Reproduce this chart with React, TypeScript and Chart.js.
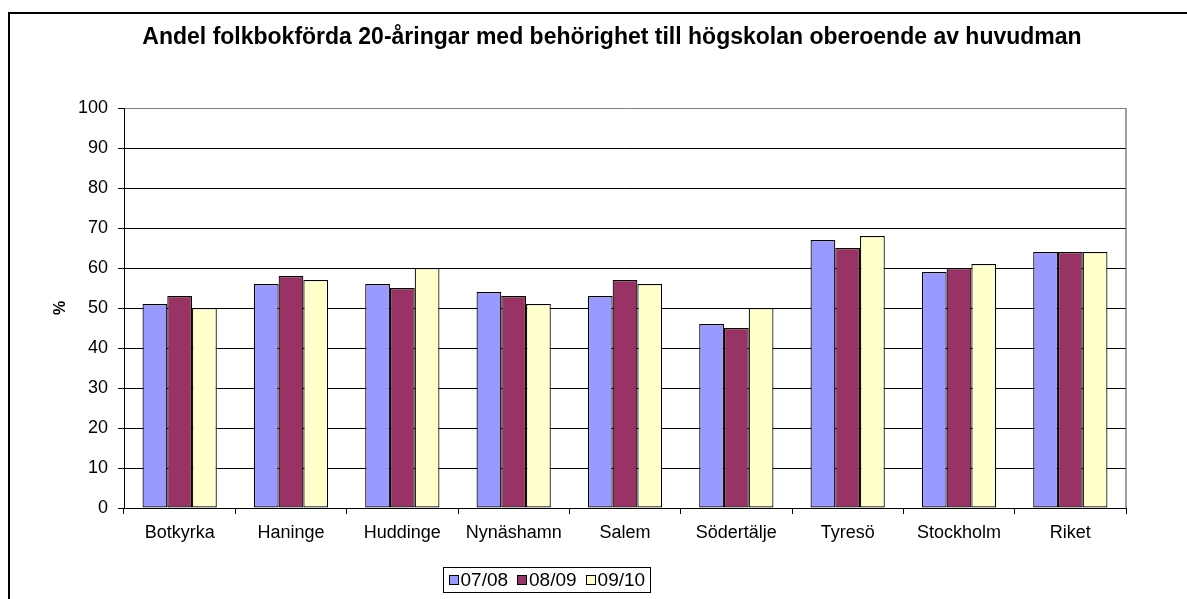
import React, { useEffect, useRef } from "react";
import { Chart, registerables } from "chart.js";

Chart.register(...registerables);

const titleText = "Andel folkbokförda 20-åringar med behörighet till högskolan oberoende av huvudman";
const yAxisTitle = "%";
const categories = ["Botkyrka", "Haninge", "Huddinge", "Nynäshamn", "Salem", "Södertälje", "Tyresö", "Stockholm", "Riket"];
const seriesLabels = ["07/08", "08/09", "09/10"];
const values0708 = [51, 56, 56, 54, 53, 46, 67, 59, 64];
const values0809 = [53, 58, 55, 53, 57, 45, 65, 60, 64];
const values0910 = [50, 57, 60, 51, 56, 50, 68, 61, 64];
const seriesColors = ["#9999FF", "#993366", "#FFFFCC"];
const yMin = 0;
const yMax = 100;
const yStep = 10;

const FONT = '"Liberation Sans", Arial, sans-serif';

const centeredTitle = {
  id: "centeredTitle",
  afterDraw(chart: any) {
    const ctx = chart.ctx;
    ctx.save();
    ctx.font = `bold 23px ${FONT}`;
    ctx.fillStyle = "#000";
    ctx.textAlign = "center";
    ctx.textBaseline = "middle";
    ctx.fillText(titleText, chart.width / 2, 24);
    ctx.restore();
  },
};

const boxLegend = {
  id: "boxLegend",
  afterDraw(chart: any) {
    const ctx = chart.ctx;
    ctx.save();
    ctx.font = `19px ${FONT}`;
    const sq = 9, gapSq = 3, gapItem = 9, padX = 5;
    const items = chart.data.datasets.map((ds: any) => ({
      label: ds.label,
      color: ds.backgroundColor,
      w: ctx.measureText(ds.label).width,
    }));
    const total =
      padX * 2 +
      items.reduce((s: number, it: any) => s + sq + gapSq + it.w, 0) +
      gapItem * (items.length - 1);
    const cx = 536.5, cy = 565.5, h = 25;
    const x0 = Math.round(cx - total / 2) + 0.5;
    const y0 = Math.round(cy - h / 2) + 0.5;
    ctx.strokeStyle = "#000";
    ctx.lineWidth = 1;
    ctx.strokeRect(x0, y0, Math.round(total), h);
    let x = x0 + padX;
    ctx.textBaseline = "middle";
    ctx.textAlign = "left";
    items.forEach((it: any) => {
      const sy = Math.round(cy - sq / 2) + 0.5;
      ctx.fillStyle = it.color;
      ctx.fillRect(Math.round(x) + 0.5, sy, sq, sq);
      ctx.strokeRect(Math.round(x) + 0.5, sy, sq, sq);
      x += sq + gapSq;
      ctx.fillStyle = "#000";
      ctx.fillText(it.label, x, cy + 1);
      x += it.w + gapItem;
    });
    ctx.restore();
  },
};

const plotBorder = {
  id: "plotBorder",
  beforeDatasetsDraw(chart: any) {
    const { ctx, chartArea } = chart;
    ctx.save();
    ctx.strokeStyle = "#808080";
    ctx.lineWidth = 1.5;
    ctx.beginPath();
    ctx.moveTo(chartArea.right, chartArea.top);
    ctx.lineTo(chartArea.right, chartArea.bottom);
    ctx.stroke();
    ctx.restore();
  },
};

export default function App() {
  const ref = useRef<HTMLCanvasElement | null>(null);

  useEffect(() => {
    if (!ref.current) return;
    const datasets = [values0708, values0809, values0910].map((vals, i) => ({
      label: seriesLabels[i],
      data: vals,
      backgroundColor: seriesColors[i],
      borderColor: "#000",
      borderWidth: 1.2,
      borderSkipped: false,
      categoryPercentage: 0.667,
      barPercentage: 1,
    }));
    const chart = new Chart(ref.current, {
      type: "bar",
      data: { labels: categories, datasets },
      plugins: [boxLegend, plotBorder, centeredTitle],
      options: {
        animation: false,
        responsive: false,
        maintainAspectRatio: false,
        devicePixelRatio: 1,
        layout: { padding: { top: 94, left: 0, right: 88, bottom: 66 } },
        plugins: {
          legend: { display: false },
          tooltip: { enabled: false },
          title: { display: false },
        },
        scales: {
          x: {
            afterFit: (scale: any) => {
              scale.height = 40;
            },
            grid: {
              display: true,
              drawOnChartArea: false,
              drawTicks: true,
              tickLength: 6,
              color: "#000",
              offset: true,
            },
            border: { display: true, color: "#000", width: 1 },
            ticks: {
              color: "#000",
              font: { family: FONT, size: 18 },
              padding: 8,
              maxRotation: 0,
              autoSkip: false,
            },
          },
          y: {
            min: yMin,
            max: yMax,
            afterFit: (scale: any) => {
              scale.width = 114;
            },
            grid: {
              color: (c: any) => (c.tick && c.tick.value === yMax ? "#808080" : "#000"),
              tickColor: "#000",
              lineWidth: 1,
              drawTicks: true,
              tickLength: 6,
            },
            border: { display: true, color: "#000", width: 1 },
            ticks: {
              stepSize: yStep,
              color: "#000",
              font: { family: FONT, size: 18 },
              padding: 10,
            },
            title: {
              display: true,
              text: yAxisTitle,
              color: "#000",
              font: { family: FONT, size: 16, weight: "bold" },
              padding: { top: 41, bottom: 0 },
            },
          },
        },
      },
    } as any);
    return () => chart.destroy();
  }, []);

  return (
    <div
      style={{
        position: "fixed",
        left: 0,
        top: 0,
        width: 1187,
        height: 599,
        overflow: "hidden",
        background: "#fff",
      }}
    >
      <div
        style={{
          position: "absolute",
          left: 8,
          top: 12,
          width: 1210,
          height: 640,
          border: "2px solid #000",
          boxSizing: "border-box",
        }}
      >
        <canvas
          ref={ref}
          width={1204}
          height={600}
          style={{ position: "absolute", left: 0, top: 0, width: 1204, height: 600 }}
        />
      </div>
    </div>
  );
}
